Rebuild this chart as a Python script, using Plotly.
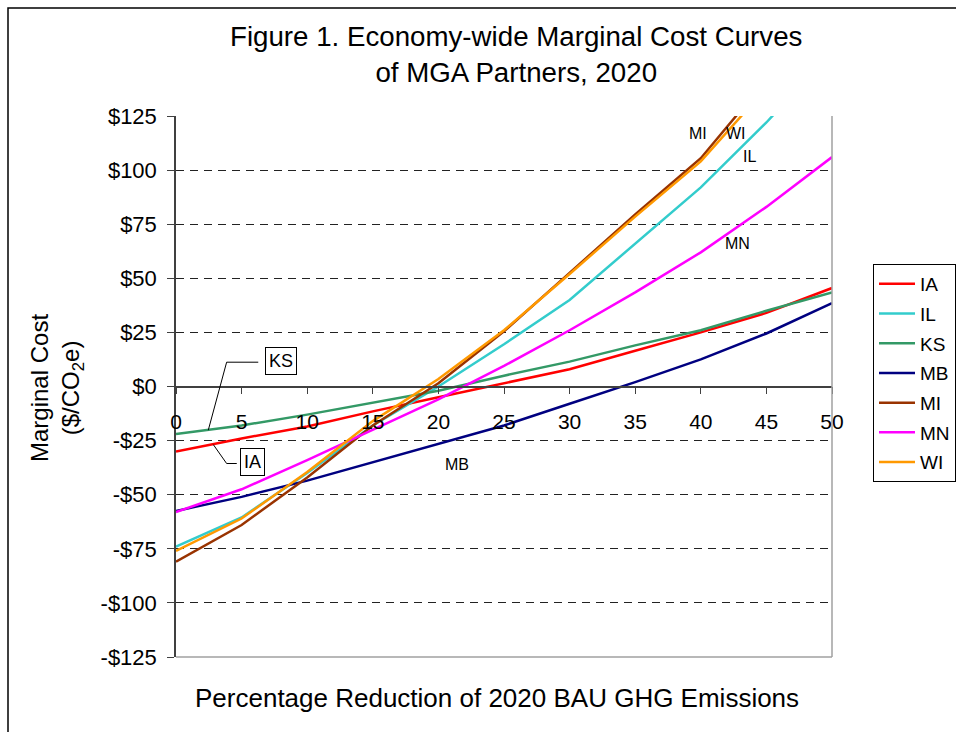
import plotly.graph_objects as go

# ---- data ----
reduction_pct = [0, 5, 10, 15, 20, 25, 30, 35, 40, 45, 50]

series_names = ["IA", "IL", "KS", "MB", "MI", "MN", "WI"]
ia = [-30, -24, -18.5, -11.5, -5, 1.5, 8, 16.5, 25, 34, 45.5]
il = [-74, -60.5, -40, -18, 0, 19.5, 40, 66, 92, 122, 155]
ks = [-22, -18, -13, -7.5, -2, 5, 11.5, 19, 26, 35, 43.5]
mb = [-57.5, -51, -43.5, -35, -26.5, -18, -8, 2, 12.5, 24.5, 38.5]
mi = [-81, -64, -42, -18, 1.5, 25.5, 52.5, 79.5, 105.5, 141.5, 178]
mn = [-58, -47.5, -34, -20, -6, 9.5, 26, 43.5, 62, 83, 106]
wi = [-76, -61, -39.5, -16, 3.5, 26, 52, 78.5, 104, 138, 172]
series_values = [ia, il, ks, mb, mi, mn, wi]
series_colors = ["#FF0000", "#33CCCC", "#339966", "#000080", "#993300", "#FF00FF", "#FF9900"]

x_tick_vals = [0, 5, 10, 15, 20, 25, 30, 35, 40, 45, 50]
y_tick_vals = [125, 100, 75, 50, 25, 0, -25, -50, -75, -100, -125]
y_tick_text = ["$125", "$100", "$75", "$50", "$25", "$0", "-$25", "-$50", "-$75", "-$100", "-$125"]

FONT = "Liberation Sans, Arial, sans-serif"
AX = "#404040"

fig = go.Figure()
for name, vals, col in zip(series_names, series_values, series_colors):
    fig.add_trace(go.Scatter(
        x=reduction_pct, y=vals, name=name, mode="lines",
        line=dict(color=col, width=2.5), legendgroup=name,
    ))

# plot geometry (pixels)
W, H = 956, 732
L, R, T, B = 176, 124, 116, 75
pw, ph = W - L - R, H - T - B

def px(xp):
    return (xp - L) / pw

def py(yp):
    return (H - B - yp) / ph

fig.update_layout(
    width=W, height=H,
    margin=dict(l=L, r=R, t=T, b=B, autoexpand=False),
    paper_bgcolor="white", plot_bgcolor="white",
    font=dict(family=FONT, color="black"),
    showlegend=True,
    legend=dict(
        x=px(873), y=py(264), xanchor="left", yanchor="top",
        bordercolor="black", borderwidth=1, bgcolor="white",
        font=dict(size=19, family=FONT), tracegroupgap=2, itemwidth=36,
    ),
    xaxis=dict(
        range=[0, 50], tickvals=x_tick_vals, ticks="outside", ticklen=7,
        tickcolor=AX, showline=True, linecolor=AX, linewidth=1.5,
        anchor="free", position=0.5, showgrid=False, zeroline=False,
        tickfont=dict(size=21, family=FONT), ticklabelstandoff=10,
    ),
    yaxis=dict(
        range=[-125, 125], tickvals=y_tick_vals, ticktext=y_tick_text,
        ticks="outside", ticklen=7, tickcolor=AX, showline=True,
        linecolor=AX, linewidth=1.5, showgrid=True, gridcolor="#222222",
        griddash="8px,6px", gridwidth=1, zeroline=False,
        tickfont=dict(size=22, family=FONT), ticklabelstandoff=6,
    ),
)

shapes = [
    # right and bottom frame of plot area
    dict(type="line", xref="x domain", yref="y domain", x0=1, x1=1, y0=0, y1=1,
         line=dict(color="#A0A0A0", width=1.5)),
    dict(type="line", xref="x domain", yref="y domain", x0=0, x1=1, y0=0, y1=0,
         line=dict(color="#A0A0A0", width=1.5)),
    # outer chart border
    dict(type="rect", xref="paper", yref="paper", x0=px(8), x1=px(990), y0=py(760), y1=py(8),
         line=dict(color="black", width=1.5), layer="below"),
    # KS callout leader
    dict(type="path", xref="x", yref="y", path="M 6.27 11.23 L 3.86 11.23 L 2.46 -20.19",
         line=dict(color="black", width=1)),
    # IA callout leader
    dict(type="path", xref="x", yref="y", path="M 4.63 -35.58 L 3.86 -35.58 L 2.84 -26.8",
         line=dict(color="black", width=1)),
]
fig.update_layout(shapes=shapes)

annotations = [
    dict(text="Figure 1. Economy-wide Marginal Cost Curves<br>of MGA Partners, 2020",
         xref="paper", yref="paper", x=px(516), y=py(54), showarrow=False,
         font=dict(size=27.7, family=FONT), xanchor="center", yanchor="middle"),
    dict(text="Percentage Reduction of 2020 BAU GHG Emissions",
         xref="paper", yref="paper", x=px(497), y=py(698), showarrow=False,
         font=dict(size=26, family=FONT), xanchor="center", yanchor="middle"),
    dict(text="Marginal Cost<br>($/CO<sub>2</sub>e)", textangle=-90,
         xref="paper", yref="paper", x=px(57), y=py(388), showarrow=False,
         font=dict(size=24, family=FONT), xanchor="center", yanchor="middle"),
    dict(text="KS", xref="x", yref="y", x=8.04, y=11.8, showarrow=False,
         font=dict(size=18, family=FONT), bordercolor="black", borderwidth=1,
         borderpad=3, bgcolor="white"),
    dict(text="IA", xref="x", yref="y", x=5.83, y=-34.7, showarrow=False,
         font=dict(size=18, family=FONT), bordercolor="black", borderwidth=1,
         borderpad=3, bgcolor="white"),
]
for lbl, lx, ly in [("MI", 39.8, 116.9), ("WI", 42.7, 116.9), ("IL", 43.7, 106.3),
                    ("MN", 42.8, 66.1), ("MB", 21.4, -36.0)]:
    annotations.append(dict(text=lbl, xref="x", yref="y", x=lx, y=ly, showarrow=False,
                            font=dict(size=16, family=FONT)))
fig.update_layout(annotations=annotations)

fig.write_html("out.html", config={"displayModeBar": False},
               post_script="document.body.style.margin='0px';")
